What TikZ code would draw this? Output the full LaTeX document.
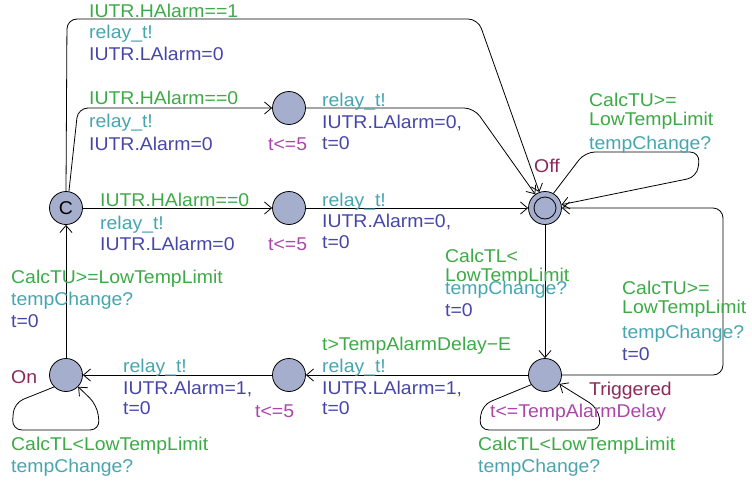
\documentclass[tikz,border=0pt]{standalone}
\usepackage{fontspec}
\setmainfont{Liberation Sans}[FakeStretch=1.05]
\usetikzlibrary{arrows.meta}
\definecolor{gcol}{RGB}{60,170,70}
\definecolor{scol}{RGB}{70,165,175}
\definecolor{ucol}{RGB}{70,70,170}
\definecolor{icol}{RGB}{170,70,170}
\definecolor{ncol}{RGB}{140,40,90}
\definecolor{locfill}{RGB}{165,175,205}
\tikzset{
  loc/.style={circle,draw=black,thick,fill=locfill,minimum size=33pt,inner sep=0pt},
  lbl/.style={anchor=base west,inner sep=0pt,font=\fontsize{18.5}{21}\selectfont},
  guard/.style={lbl,text=gcol},
  sync/.style={lbl,text=scol},
  upd/.style={lbl,text=ucol},
  inv/.style={lbl,text=icol},
  lname/.style={lbl,text=ncol},
  edge/.style={thick,rounded corners=10pt,-{Straight Barb[length=7pt,width=12pt]}},
}
\begin{document}
\begin{tikzpicture}[x=1pt,y=-1pt]
\useasboundingbox (0,0) rectangle (752,485);
% locations
\node[loc] (C) at (66,208) {\fontsize{18.5}{21}\selectfont C};
\node[loc] (M1) at (289,108) {};
\node[loc] (M2) at (289,208) {};
\node[loc] (Off) at (545,208) {};
\node[circle,draw=black,thick,minimum size=22pt,inner sep=0pt] (OffIn) at (545,208) {};
\node[loc] (Trig) at (545,375) {};
\node[loc] (M3) at (289,375) {};
\node[loc] (On) at (66,375) {};
% waypoints
\coordinate (a1) at (67,19);
\coordinate (a2) at (478,19);
\coordinate (b1) at (78,108);
\coordinate (c1) at (474,108);
\coordinate (s1) at (585,152);
\coordinate (s2) at (700,152);
\coordinate (s3) at (697,177);
\coordinate (t1) at (723,375);
\coordinate (t2) at (723,208);
\coordinate (o1) at (14,403);
\coordinate (o2) at (12,430);
\coordinate (o3) at (100,430);
\coordinate (o4) at (97,405);
\coordinate (r1) at (482,405);
\coordinate (r2) at (479,430);
\coordinate (r3) at (601,430);
\coordinate (r4) at (598,408);
% edges
\draw[edge] (C.north) -- (a1) -- (a2) -- (Off);
\draw[edge] (C.80) -- (b1) -- (M1);
\draw[edge] (M1) -- (c1) -- (Off);
\draw[edge] (C) -- (M2);
\draw[edge] (M2) -- (Off);
\draw[edge] (Off.60) -- (s1) -- (s2) -- (s3) -- (Off);
\draw[edge] (Off) -- (Trig);
\draw[edge] (Trig.east) -- (t1) -- (t2) -- (Off);
\draw[edge] (Trig) -- (M3);
\draw[edge] (M3) -- (On);
\draw[edge] (On) -- (C);
\draw[edge] (On.225) -- (o1) -- (o2) -- (o3) -- (o4) -- (On);
\draw[edge] (Trig.215) -- (r1) -- (r2) -- (r3) -- (r4) -- (Trig);
% labels: top edge
\node[guard] (l1) at (89,17) {IUTR.HAlarm==1};
\node[sync] (l2) at (89,38) {relay\_t!};
\node[upd] (l3) at (89,60) {IUTR.LAlarm=0};
% C -> M1
\node[guard] (l4) at (89,104) {IUTR.HAlarm==0};
\node[sync] (l5) at (89,127) {relay\_t!};
\node[upd] (l6) at (89,150) {IUTR.Alarm=0};
\node[inv] (l7) at (268,150) {t<=5};
% M1 -> Off
\node[sync] (l8) at (322,106) {relay\_t!};
\node[upd] (l9) at (322,128) {IUTR.LAlarm=0,};
\node[upd] (l10) at (322,149) {t=0};
% C -> M2
\node[guard] (l11) at (100,206) {IUTR.HAlarm==0};
\node[sync] (l12) at (100,229) {relay\_t!};
\node[upd] (l13) at (100,250) {IUTR.LAlarm=0};
\node[inv] (l14) at (268,250) {t<=5};
% M2 -> Off
\node[sync] (l15) at (322,206) {relay\_t!};
\node[upd] (l16) at (322,227) {IUTR.Alarm=0,};
\node[upd] (l17) at (322,248) {t=0};
% On -> C
\node[guard] (l18) at (11,283) {CalcTU>=LowTempLimit};
\node[sync] (l19) at (11,305) {tempChange?};
\node[upd] (l20) at (11,327) {t=0};
% Off self loop
\node[lname] (nOff) at (534,172) {Off};
\node[guard] (l21) at (589,106) {CalcTU>=};
\node[guard] (l22) at (589,125) {LowTempLimit};
\node[sync] (l23) at (589,149) {tempChange?};
% Off -> Trig
\node[guard] (l24) at (445,262) {CalcTL<};
\node[guard] (l25) at (445,281) {LowTempLimit};
\node[sync] (l26) at (445,294) {tempChange?};
\node[upd] (l27) at (445,316) {t=0};
% Trig -> Off
\node[guard] (l28) at (622,294) {CalcTU>=};
\node[guard] (l29) at (622,313) {LowTempLimit};
\node[sync] (l30) at (622,338) {tempChange?};
\node[upd] (l31) at (622,360) {t=0};
% Trig
\node[lname] (nTrig) at (589,395) {Triggered};
\node[inv] (l32) at (490,417) {t<=TempAlarmDelay};
\node[guard] (l33) at (478,450) {CalcTL<LowTempLimit};
\node[sync] (l34) at (478,472) {tempChange?};
% Trig -> M3
\node[guard] (l35) at (322,350) {t>TempAlarmDelay−E};
\node[sync] (l36) at (322,372) {relay\_t!};
\node[upd] (l37) at (322,394) {IUTR.LAlarm=1,};
\node[upd] (l38) at (322,414) {t=0};
% M3 -> On
\node[sync] (l39) at (123,372) {relay\_t!};
\node[upd] (l40) at (123,394) {IUTR.Alarm=1,};
\node[upd] (l41) at (123,414) {t=0};
\node[inv] (l42) at (255,417) {t<=5};
% On
\node[lname] (nOn) at (11,383) {On};
\node[guard] (l43) at (11,450) {CalcTL<LowTempLimit};
\node[sync] (l44) at (11,472) {tempChange?};
\end{tikzpicture}
\end{document}
